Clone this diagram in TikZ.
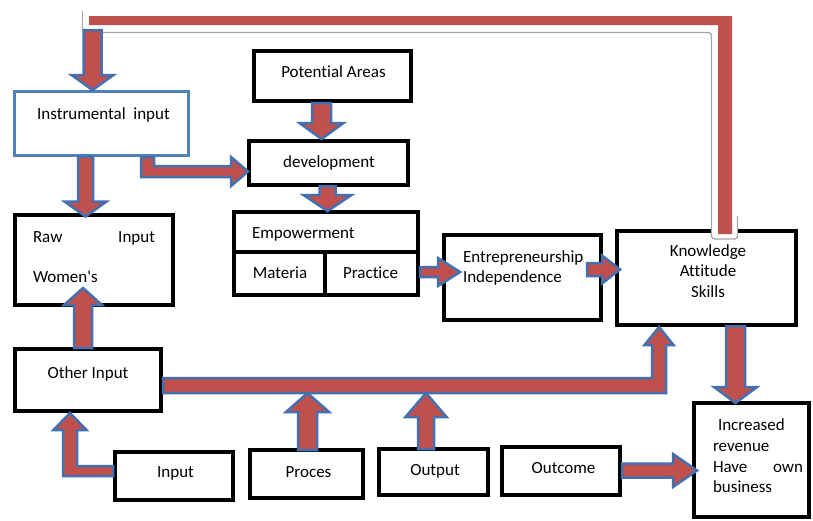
\documentclass[tikz,border=0pt]{standalone}
\usepackage{fontspec}
\setmainfont{Carlito}[Ligatures={NoCommon}]
\usetikzlibrary{calc}

\definecolor{arrowred}{RGB}{192,80,77}
\definecolor{arrowblue}{RGB}{68,112,176}
\definecolor{boxblue}{RGB}{79,129,189}
\definecolor{shadowgray}{RGB}{165,165,165}

\tikzset{
  box/.style 2 args={draw=black, line width=4pt, inner sep=0pt, outer sep=0pt,
    minimum width=#1pt, minimum height=#2pt},
  txt/.style={inner sep=0pt, outer sep=0pt, text=black,
    font=\fontsize{17}{20}\selectfont},
  bafill/.style={fill=arrowred, draw=arrowblue, line width=2.5pt, line join=miter},
  % straight block arrow: shaft half-width, head half-width, head length
  barrow/.style n args={3}{bafill,
    to path={let \p1=($(\tikztotarget)!#3!(\tikztostart)$) in
      ($(\tikztostart)!#1!90:(\tikztotarget)$)
      -- ($(\p1)!#1!90:(\tikztotarget)$)
      -- ($(\p1)!#2!90:(\tikztotarget)$)
      -- (\tikztotarget)
      -- ($(\p1)!#2!-90:(\tikztotarget)$)
      -- ($(\p1)!#1!-90:(\tikztotarget)$)
      -- ($(\tikztostart)!#1!-90:(\tikztotarget)$) -- cycle}},
}

\begin{document}
\begin{tikzpicture}[x=1pt, y=-1pt]
\fill[white] (0,0) rectangle (813,520);
\useasboundingbox (0,0) rectangle (813,520);

% ---- boxes ----
\node[box={174}{64}, draw=boxblue, line width=3pt] (inst) at (101.5,123.5) {};
\node[box={157}{50}] (pot)   at (332.5,76)    {};
\node[box={159}{44}] (dev)   at (328.5,163)   {};
\node[box={184}{40}] (emp)   at (326,232)     {};
\node[box={91}{43}]  (mat)   at (279.5,273.5) {};
\node[box={93}{43}]  (prac)  at (371.5,273.5) {};
\node[box={158}{90}] (raw)   at (94,260)      {};
\node[box={146}{62}] (other) at (88,380)      {};
\node[box={157}{85}] (ent)   at (522.5,277.5) {};
\node[box={179}{94}] (know)  at (706.5,278)   {};
\node[box={118}{48}] (inp)   at (174,476)     {};
\node[box={113}{48}] (proc)  at (306.5,474)   {};
\node[box={109}{46}] (outp)  at (433.5,472)   {};
\node[box={118}{48}] (outc)  at (561,471)     {};
\node[box={115}{114}] (incr) at (751.5,460)   {};

% ---- labels ----
\node[txt, anchor=base] (inst-t) at ($(inst.center)+(2,-4.5)$) {Instrumental\ \ input};
\node[txt, anchor=base] (pot-t)  at ($(pot.center)+(1,1)$) {Potential Areas};
\node[txt, anchor=base] (dev-t)  at ($(dev.center)+(0.5,4)$) {development};
\node[txt, anchor=base west] (raw-t1) at ($(raw.west)+(18,-18)$) {Raw};
\node[txt, anchor=base east] (raw-t2) at ($(raw.east)+(-18,-18)$) {Input};
\node[txt, anchor=base west] (raw-t3) at ($(raw.west)+(18,22)$) {Women\textquotesingle s};
\node[txt, anchor=base west] (emp-t)  at ($(emp.west)+(18,6)$) {Empowerment};
\node[txt, anchor=base] (mat-t)  at ($(mat.center)+(0.5,4.5)$) {Materia};
\node[txt, anchor=base] (prac-t) at ($(prac.center)+(-1,4.5)$) {Practice};
\node[txt, anchor=base] (other-t) at ($(other.center)+(0,-2)$) {Other Input};
\node[txt, anchor=base west] (ent-t1) at ($(ent.west)+(19,-15.5)$) {Entrepreneurship};
\node[txt, anchor=base west] (ent-t2) at ($(ent.west)+(19,4.5)$) {Independence};
\node[txt, anchor=base] (know-t1) at ($(know.center)+(1.5,-22)$) {Knowledge};
\node[txt, anchor=base] (know-t2) at ($(know.center)+(1.5,-1.5)$) {Attitude};
\node[txt, anchor=base] (know-t3) at ($(know.center)+(1.5,19)$) {Skills};
\node[txt, anchor=base] (inp-t)  at ($(inp.center)+(1.5,1)$) {Input};
\node[txt, anchor=base] (proc-t) at ($(proc.center)+(2,3)$) {Proces};
\node[txt, anchor=base] (outp-t) at ($(outp.center)+(1.5,3)$) {Output};
\node[txt, anchor=base] (outc-t) at ($(outc.center)+(2.5,2)$) {Outcome};
\node[txt, anchor=base west] (incr-t1) at ($(incr.west)+(24,-30)$) {Increased};
\node[txt, anchor=base west] (incr-t2) at ($(incr.west)+(19,-9)$) {revenue};
\node[txt, anchor=base west] (incr-t3) at ($(incr.west)+(19,12)$) {\makebox[90pt][l]{Have\hfill own}};
\node[txt, anchor=base west] (incr-t4) at ($(incr.west)+(19,32)$) {business};

% ---- feedback line from Knowledge back to Instrumental input ----
\coordinate (fbfoot) at ($(know.north)+(18.5,3)$);
\coordinate (fbdrop) at ($(inst.north)+(-9,-61.5)$);
\fill[white] ($(fbfoot)+(-13.5,-10)$) rectangle ($(fbfoot)+(12.5,5)$);
\draw[shadowgray, line width=1.3pt, rounded corners=3pt]
  ($(fbdrop)+(10,2.5)$) -| ($(fbfoot)+(-13.5,5)$) -- ($(fbfoot)+(12.5,5)$) -- ($(fbfoot)+(12.5,-18)$);
\draw[shadowgray, line width=1pt] ($(fbdrop)+(-10.5,-19)$) -- ($(fbdrop)+(-10.5,0)$);
\fill[arrowred] ($(fbdrop)+(-3.5,-14)$) -| ($(fbfoot)+(7,0)$) -- ($(fbfoot)+(-7,0)$)
  |- ($(fbdrop)+(-3.5,-5)$) -- cycle;
\draw[barrow={9pt}{21pt}{15pt}] (fbdrop) to ($(inst.north)+(-9,-1.5)$);

% ---- elbow connectors ----
\coordinate (e1s) at ($(inst.south)+(46,1.5)$);
\coordinate (e1t) at ($(dev.west)+(-1,8.5)$);
\draw[bafill] ($(e1s)+(-6.5,0)$) |- ($(e1t)+(-17,5.5)$) -- ++(0,9) -- (e1t)
  -- ++(-17,-14.5) -- ++(0,9) -| ($(e1s)+(6.5,0)$) -- cycle;

\coordinate (e2s) at ($(inp.west)+(-2,-5)$);
\coordinate (e2t) at ($(other.south)+(-18,2)$);
\draw[bafill] ($(e2s)+(0,-5)$) -| ($(e2t)+(7,17)$) -- ++(9.5,0) -- (e2t)
  -- ++(-16.5,17) -- ++(9.5,0) |- ($(e2s)+(0,5)$) -- cycle;

\coordinate (e3s) at ($(other.east)+(2,5.5)$);
\coordinate (e3t) at ($(know.south)+(-47.5,2)$);
\coordinate (bandlow) at ($(e3s)+(0,7.5)$);
\draw[bafill] ($(e3s)+(0,-7.5)$) -| ($(e3t)+(-7,18)$) -- ++(-7.5,0) -- (e3t)
  -- ++(14.5,18) -- ++(-7.5,0) |- (bandlow) -- cycle;

% ---- straight connectors ----
\draw[barrow={9.5pt}{22pt}{16pt}] ($(pot.south)+(-11,2)$) to ($(dev.north)+(-7,-2)$);
\draw[barrow={7.5pt}{21pt}{15pt}] ($(inst.south)+(-16,1)$) to ($(raw.north)+(-8.5,1.5)$);
\draw[barrow={8pt}{24pt}{16pt}] ($(dev.south)+(-1,1)$) to ($(emp.north)+(1.5,-1)$);
\draw[barrow={9pt}{19pt}{17pt}] ($(other.north)+(-5,-1)$) to ($(raw.south)+(-11,-17)$);
\draw[barrow={5pt}{14pt}{22pt}] ($(prac.east)+(2,-1.5)$) to ($(ent.west)+(16,-5.5)$);
\draw[barrow={6.5pt}{14pt}{18pt}] ($(ent.east)+(-14,-8)$) to ($(know.west)+(3,-8.5)$);
\draw[barrow={9.5pt}{21.5pt}{16pt}] ($(know.south)+(29,1)$) to ($(incr.north)+(-16,0)$);
\draw[barrow={7pt}{16.5pt}{24pt}] ($(outc.east)+(2,-0.5)$) to ($(incr.west)+(3,10.5)$);

\coordinate (procup) at ($(proc.north)+(1,0)$);
\draw[barrow={9.5pt}{21.5pt}{19pt}] (procup) to (procup |- bandlow);
\coordinate (outup) at ($(outp.north)+(-7.5,0)$);
\draw[barrow={8pt}{20.5pt}{24pt}] (outup) to (outup |- bandlow);
\end{tikzpicture}
\end{document}
